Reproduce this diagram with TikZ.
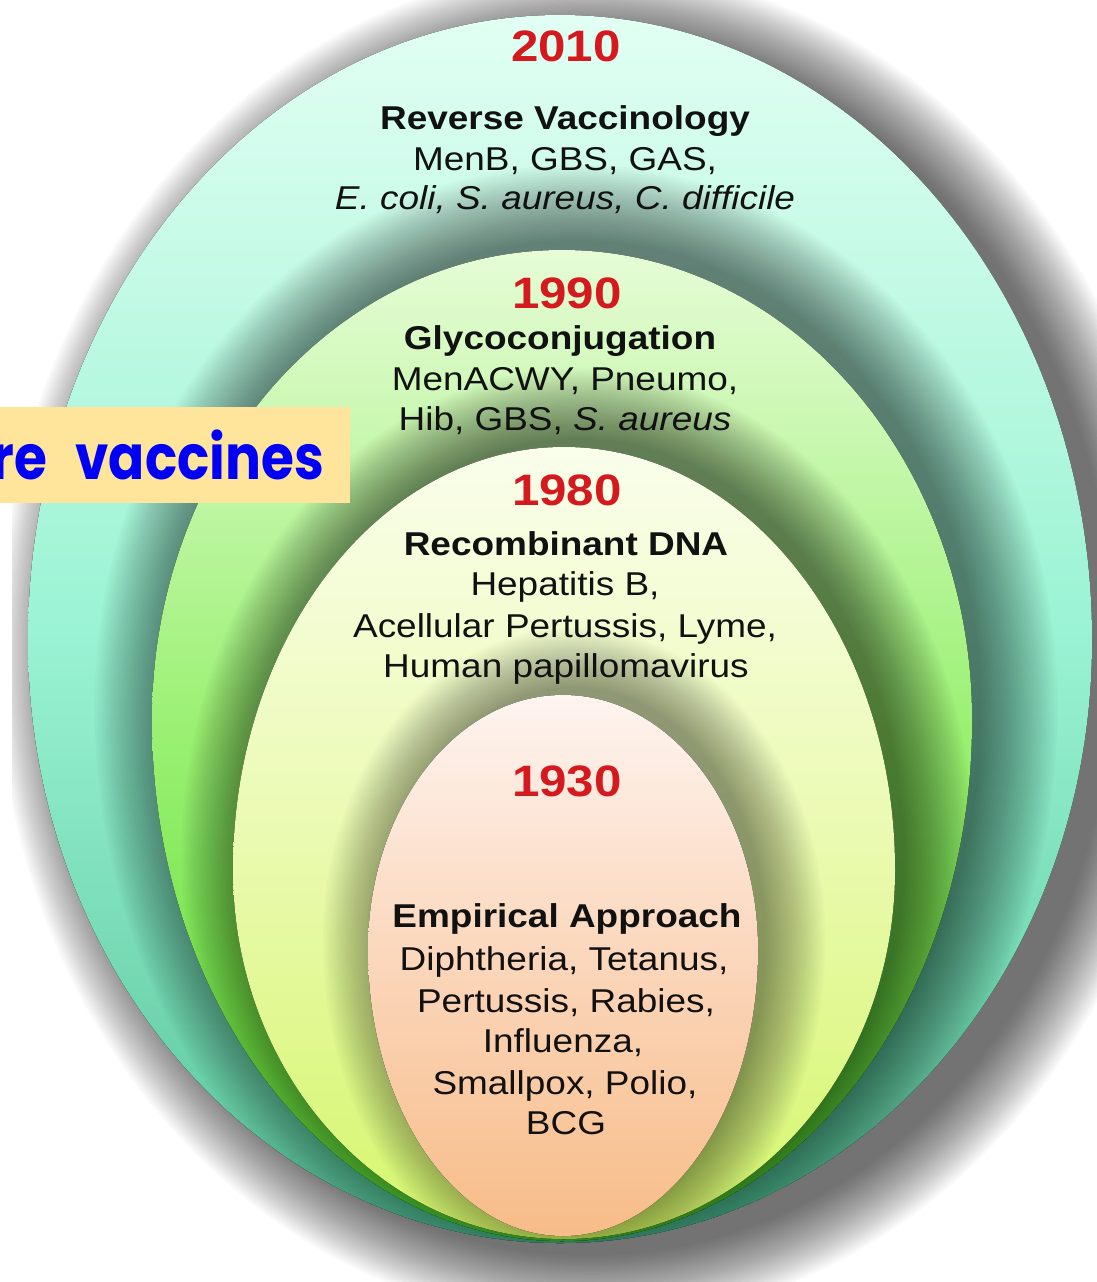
\documentclass[tikz,border=0pt]{standalone}
\usepackage{fontspec}
\setmainfont{Liberation Sans}[FakeStretch=1.12]
\newfontfamily\labelfont{Poppins}[FakeStretch=0.86]
\definecolor{yearred}{HTML}{D41A1F}
\definecolor{tealtop}{HTML}{E2FFF4}
\definecolor{tealmid}{HTML}{9AF3D4}
\definecolor{tealbot}{HTML}{58C49A}
\definecolor{greentop}{HTML}{E6FCD6}
\definecolor{greenmid}{HTML}{98F070}
\definecolor{greenbot}{HTML}{5AD830}
\definecolor{yellowtop}{HTML}{FAFEEC}
\definecolor{yellowmid}{HTML}{EAFAB0}
\definecolor{yellowbot}{HTML}{D6F66C}
\definecolor{orangetop}{HTML}{FEF4F0}
\definecolor{orangemid}{HTML}{FBD6BA}
\definecolor{orangebot}{HTML}{F7BC88}
\definecolor{boxfill}{HTML}{FFE59B}
\definecolor{tagblue}{HTML}{0000F5}
\definecolor{inktext}{HTML}{111111}
% egg: cx, cy, rx, top radius, bottom radius (pixel coordinates, y downwards)
\newcommand\egg[5]{(#1+#3,#2) arc[start angle=0,end angle=180,x radius=#3,y radius=#5] arc[start angle=180,end angle=360,x radius=#3,y radius=#4]}
\tikzset{
  yr/.style={font=\fontsize{44}{50}\selectfont\bfseries, text=yearred, anchor=base, inner sep=0pt},
  ttl/.style={font=\fontsize{33}{40}\selectfont\bfseries, text=inktext, anchor=base, inner sep=0pt},
  itm/.style={font=\fontsize{33}{40}\selectfont, text=inktext, anchor=base, inner sep=0pt},
  shd/.style={black, opacity=0.021},
}
\begin{document}
\begin{tikzpicture}[x=1pt,y=-1pt]
\useasboundingbox (0,0) rectangle (1097,1282);
\fill[white] (0,0) rectangle (1097,1282);
% outer drop shadow
\begin{scope}
  \clip (12,0) rectangle (1097,1282);
  \foreach \k in {0,...,29}{
    \fill[black,opacity=0.024] \egg{590}{656}{526+\k*2.3}{620+\k*2.3}{600+\k*2.3};
  }
\end{scope}
% 2010 layer
\fill[top color=tealtop, bottom color=tealbot, middle color=tealmid] \egg{560}{640}{532}{625}{603};
\begin{scope}
  \clip \egg{560}{640}{532}{625}{603};
  \foreach \k in {0,...,29}{
    \fill[shd] \egg{576}{706}{406+\k*2.6}{466+\k*2.6}{515+\k*2.6};
  }
\end{scope}
% 1990 layer
\fill[top color=greentop, bottom color=greenbot, middle color=greenmid] \egg{562}{720}{410}{470}{521};
\begin{scope}
  \clip \egg{562}{720}{410}{470}{521};
  \foreach \k in {0,...,29}{
    \fill[shd] \egg{578}{858}{327+\k*2.4}{420+\k*2.4}{364+\k*2.4};
  }
\end{scope}
% 1980 layer
\fill[top color=yellowtop, bottom color=yellowbot, middle color=yellowmid] \egg{564}{870}{331}{423}{369};
\begin{scope}
  \clip \egg{564}{870}{331}{423}{369};
  \foreach \k in {0,...,27}{
    \fill[black, opacity=0.016] \egg{574}{940}{192+\k*2.2}{253+\k*2.2}{282+\k*2.2};
  }
\end{scope}
% 1930 layer
\fill[top color=orangetop, bottom color=orangebot, middle color=orangemid] \egg{563}{950}{195}{255}{286};

% texts 2010
\node[yr]  (y2010) at (566,61) {2010};
\node[ttl] (rvt)   at (565,129) {Reverse Vaccinology};
\node[itm] (rv1)   at (565,170) {MenB, GBS, GAS,};
\node[itm] (rv2)   at (565,209) {\itshape E. coli, S. aureus, C. difficile};
% 1990
\node[yr]  (y1990) at (567,308) {1990};
\node[ttl] (gct)   at (560,349) {Glycoconjugation};
\node[itm] (gc1)   at (565,390) {MenACWY, Pneumo,};
\node[itm] (gc2)   at (565,430) {Hib, GBS, \textit{S. aureus}};
% 1980
\node[yr]  (y1980) at (567,505) {1980};
\node[ttl] (rdt)   at (566,555) {Recombinant DNA};
\node[itm] (rd1)   at (565,595) {Hepatitis B,};
\node[itm] (rd2)   at (565,637) {Acellular Pertussis, Lyme,};
\node[itm] (rd3)   at (566,677) {Human papillomavirus};
% 1930
\node[yr]  (y1930) at (567,796) {1930};
\node[ttl] (eat)   at (567,927) {Empirical Approach};
\node[itm] (ea1)   at (564,970) {Diphtheria, Tetanus,};
\node[itm] (ea2)   at (566,1012) {Pertussis, Rabies,};
\node[itm] (ea3)   at (563,1052) {Influenza,};
\node[itm] (ea4)   at (565,1094) {Smallpox, Polio,};
\node[itm] (ea5)   at (566,1134) {BCG};

% label box
\node[fill=boxfill, minimum width=350pt, minimum height=96pt, anchor=north west, inner sep=0pt] (tagbox) at (0,407) {};
\begin{scope}
  \clip (0,407) rectangle (350,503);
  \node[anchor=base east, text=tagblue, font=\labelfont\bfseries\fontsize{62}{64}\selectfont, inner sep=0pt] (tagtext) at (324,479) {re\hspace{28pt}vaccines};
\end{scope}
\end{tikzpicture}
\end{document}
